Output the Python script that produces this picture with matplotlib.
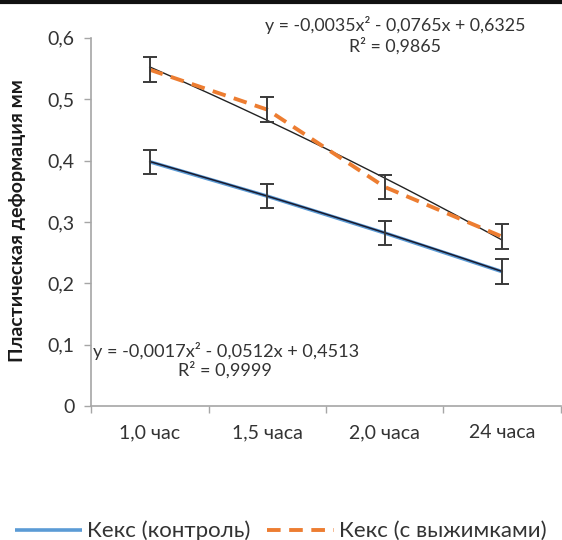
import numpy as np
import matplotlib
matplotlib.use("Agg")
import matplotlib.pyplot as plt

plt.rcParams['font.family'] = ['Lato', 'DejaVu Sans']

categories = ["1,0 час", "1,5 часа", "2,0 часа", "24 часа"]
control = [0.398, 0.342, 0.282, 0.219]
control_err = [0.02, 0.02, 0.02, 0.02]
pomace = [0.548, 0.483, 0.357, 0.276]
pomace_err = [0.02, 0.02, 0.02, 0.02]
control_coef = [-0.0017, -0.0512, 0.4513]
pomace_coef = [-0.0035, -0.0765, 0.6325]
yticks = [0, 0.1, 0.2, 0.3, 0.4, 0.5, 0.6]
ytick_labels = ["0", "0,1", "0,2", "0,3", "0,4", "0,5", "0,6"]

W, H = 562, 540
fig = plt.figure(figsize=(W / 100, H / 100), dpi=100)
ax = fig.add_axes([0.162, 0.248, 0.836, 0.682])

x = np.arange(1, len(categories) + 1)
xs = np.linspace(1, len(categories), 200)

axis_col = '#a6a6a6'
txt_col = '#333333'
ax.plot(x, control, color='#5b9bd5', lw=2.6, solid_capstyle='butt', zorder=3,
        label='Кекс (контроль)')
ax.plot(xs, np.polyval(control_coef, xs), color='#1a1a2e', lw=1.1, zorder=4)
ax.plot(xs, np.polyval(pomace_coef, xs), color='#222222', lw=1.0, zorder=3)
ax.plot(x, pomace, color='#ed7d31', lw=2.8, dashes=(3.5, 2.2), zorder=4,
        label='Кекс (с выжимками)')
ax.errorbar(x, control, yerr=control_err, fmt='none', ecolor='#3a3a3a',
            elinewidth=1.4, capsize=5, capthick=1.4, zorder=5)
ax.errorbar(x, pomace, yerr=pomace_err, fmt='none', ecolor='#3a3a3a',
            elinewidth=1.4, capsize=5, capthick=1.4, zorder=5)

ax.set_xlim(0.5, len(categories) + 0.5)
ax.set_ylim(0, 0.6)
ax.set_yticks(yticks)
ax.set_yticklabels(ytick_labels, fontsize=14, color=txt_col)
ax.set_xticks(np.arange(0.5, len(categories) + 1, 1.0))
ax.set_xticklabels([])
ax.set_xticks(x, minor=True)
ax.set_xticklabels(categories, minor=True, fontsize=14, color=txt_col)
ax.tick_params(axis='x', which='major', direction='out', length=5, color=axis_col, width=1)
ax.tick_params(axis='x', which='minor', length=0, pad=13)
ax.tick_params(axis='y', direction='out', length=5, color=axis_col, width=1, pad=7)
for s in ['top', 'right']:
    ax.spines[s].set_visible(False)
for s in ['left', 'bottom']:
    ax.spines[s].set_color(axis_col)
    ax.spines[s].set_linewidth(1.2)

fig.text(18 / W, 1 - 221 / H, 'Пластическая деформация мм', fontsize=14,
         fontweight='bold', color='#1a1a1a', rotation=90, ha='center', va='center')

eq_fs = 12.8
fig.text(395 / W, 1 - 25 / H, 'y = -0,0035x² - 0,0765x + 0,6325',
         fontsize=eq_fs, color=txt_col, ha='center', va='center')
fig.text(395 / W, 1 - 46 / H, 'R² = 0,9865',
         fontsize=eq_fs, color=txt_col, ha='center', va='center')
fig.text(93 / W, 1 - 351 / H, 'y = -0,0017x² - 0,0512x + 0,4513',
         fontsize=eq_fs + 0.3, color=txt_col, ha='left', va='center')
fig.text(225 / W, 1 - 370 / H, 'R² = 0,9999',
         fontsize=eq_fs + 0.3, color=txt_col, ha='center', va='center')

fig.legend(loc='center', bbox_to_anchor=(0.5, 1 - 531 / H), ncol=2, frameon=False,
           fontsize=16, handlelength=3.0, handletextpad=0.25, columnspacing=0.75,
           labelcolor=txt_col, borderaxespad=0, borderpad=0)

fig.add_artist(plt.Line2D([0, 1], [0.997, 0.997], transform=fig.transFigure,
                          color='#111111', lw=3))

fig.savefig('out.png', dpi=100)
